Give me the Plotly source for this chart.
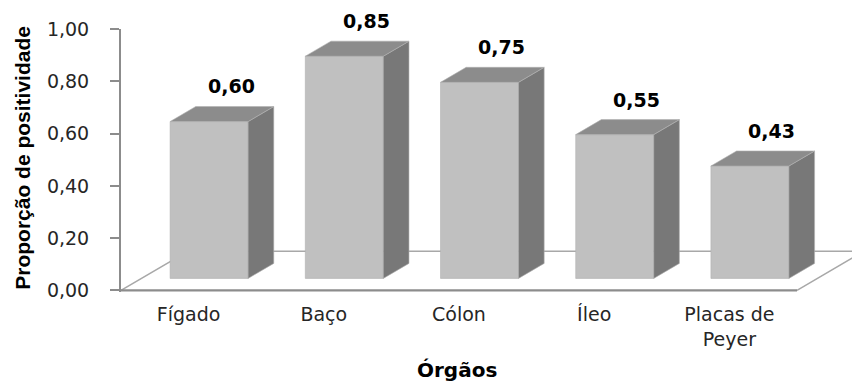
import plotly.graph_objects as go

# ---- data -------------------------------------------------------------
orgaos = ["Fígado", "Baço", "Cólon", "Íleo", "Placas de<br>Peyer"]
positividade = [0.60, 0.85, 0.75, 0.55, 0.43]
y_ticks = [0.0, 0.2, 0.4, 0.6, 0.8, 1.0]

# ---- geometry of the pseudo-3D column chart (pixels) ------------------
W, H = 852, 385
M_LEFT, M_TOP = 121, 29
PX_X = 135.2          # pixels per category step
PX_Y = 261.0          # pixels per unit of proportion
SLANT = 1.71          # horizontal shift per pixel of depth
FRONT_D, BACK_D, FLOOR_D = 12, 27, 39   # depth of bar front/back and floor back
HALF_W = 39 / PX_X    # half width of a column front face
LABEL_DX, LABEL_DY = 22, 20

X_MIN = -0.5
X_MAX = X_MIN + (W - M_LEFT) / PX_X
Y_MIN, Y_MAX = -0.006, 1.0
PLOT_H = (Y_MAX - Y_MIN) * PX_Y
M_BOTTOM = H - M_TOP - PLOT_H


def depth(d):
    """Offset (x units, y units) for a depth of d pixels."""
    return SLANT * d / PX_X, d / PX_Y


def y_paper(yv):
    """Convert a y value to paper coordinates (labels may sit above the range)."""
    return (yv - Y_MIN) / (Y_MAX - Y_MIN)


n = len(orgaos)
fdx, fdy = depth(FRONT_D)
bdx, bdy = depth(BACK_D - FRONT_D)
gdx, gdy = depth(FLOOR_D)

fig = go.Figure()

# floor
x_front_end = n - 0.5
fig.add_trace(go.Scatter(
    x=[X_MIN, X_MIN + gdx, x_front_end + gdx, x_front_end],
    y=[0, gdy, gdy, 0],
    mode="lines", line=dict(color="#a8a8a8", width=1.5),
    hoverinfo="skip", showlegend=False))
fig.add_trace(go.Scatter(
    x=[X_MIN, x_front_end], y=[0, 0],
    mode="lines", line=dict(color="#8c8c8c", width=2.2),
    hoverinfo="skip", showlegend=False))

# columns: front, side and top faces
front_x, front_y, side_x, side_y, top_x, top_y = [], [], [], [], [], []
annotations = []
for i, v in enumerate(positividade):
    x0, x1 = i + fdx - HALF_W, i + fdx + HALF_W
    y0, y1 = fdy, fdy + v
    front_x += [x0, x1, x1, x0, x0, None]
    front_y += [y0, y0, y1, y1, y0, None]
    side_x += [x1, x1 + bdx, x1 + bdx, x1, x1, None]
    side_y += [y0, y0 + bdy, y1 + bdy, y1, y0, None]
    top_x += [x0, x1, x1 + bdx, x0 + bdx, x0, None]
    top_y += [y1, y1, y1 + bdy, y1 + bdy, y1, None]
    # value label above the column
    annotations.append(dict(
        text=f"{v:.2f}".replace(".", ","),
        x=i + fdx + LABEL_DX / PX_X, y=y_paper(y1 + bdy + LABEL_DY / PX_Y),
        xref="x", yref="paper", xanchor="center", yanchor="middle",
        showarrow=False,
        font=dict(family="DejaVu Sans", size=19, color="#000000", weight="bold")))

for xs, ys, col in [(front_x, front_y, "#c0c0c0"),
                    (side_x, side_y, "#787878"),
                    (top_x, top_y, "#8c8c8c")]:
    fig.add_trace(go.Scatter(
        x=xs, y=ys, mode="lines", fill="toself", fillcolor=col,
        line=dict(color="#b0b0b0", width=0.6),
        hoverinfo="skip", showlegend=False))

annotations += [
    dict(text="Proporção de positividade", textangle=-90,
         xref="paper", yref="paper",
         x=(23 - M_LEFT) / (W - M_LEFT), y=(290 - 156) / PLOT_H,
         xanchor="center", yanchor="middle", showarrow=False,
         font=dict(family="Liberation Sans", size=21, color="#000000", weight="bold")),
    dict(text="Órgãos", xref="paper", yref="paper",
         x=(457 - M_LEFT) / (W - M_LEFT), y=-(368 - 290) / PLOT_H,
         xanchor="center", yanchor="middle", showarrow=False,
         font=dict(family="DejaVu Sans", size=20, color="#000000", weight="bold")),
]

fig.update_layout(
    width=W, height=H,
    margin=dict(l=M_LEFT, r=0, t=M_TOP, b=M_BOTTOM, pad=0),
    paper_bgcolor="white", plot_bgcolor="white",
    separators=",.",
    xaxis=dict(
        range=[X_MIN, X_MAX], showgrid=False, zeroline=False, showline=False,
        tickmode="array", tickvals=list(range(n)), ticktext=orgaos,
        ticks="", ticklabelstandoff=9,
        tickfont=dict(family="DejaVu Sans", size=19, color="#262626")),
    yaxis=dict(
        range=[Y_MIN, Y_MAX], showgrid=False, zeroline=False,
        showline=True, linecolor="#8c8c8c", linewidth=2,
        ticks="outside", ticklen=9, tickwidth=1.5, tickcolor="#8c8c8c",
        tickmode="array", tickvals=y_ticks, tickformat=".2f",
        ticklabelstandoff=17,
        tickfont=dict(family="DejaVu Sans", size=19, color="#262626")),
    annotations=annotations,
)

fig.write_html("out.html")
